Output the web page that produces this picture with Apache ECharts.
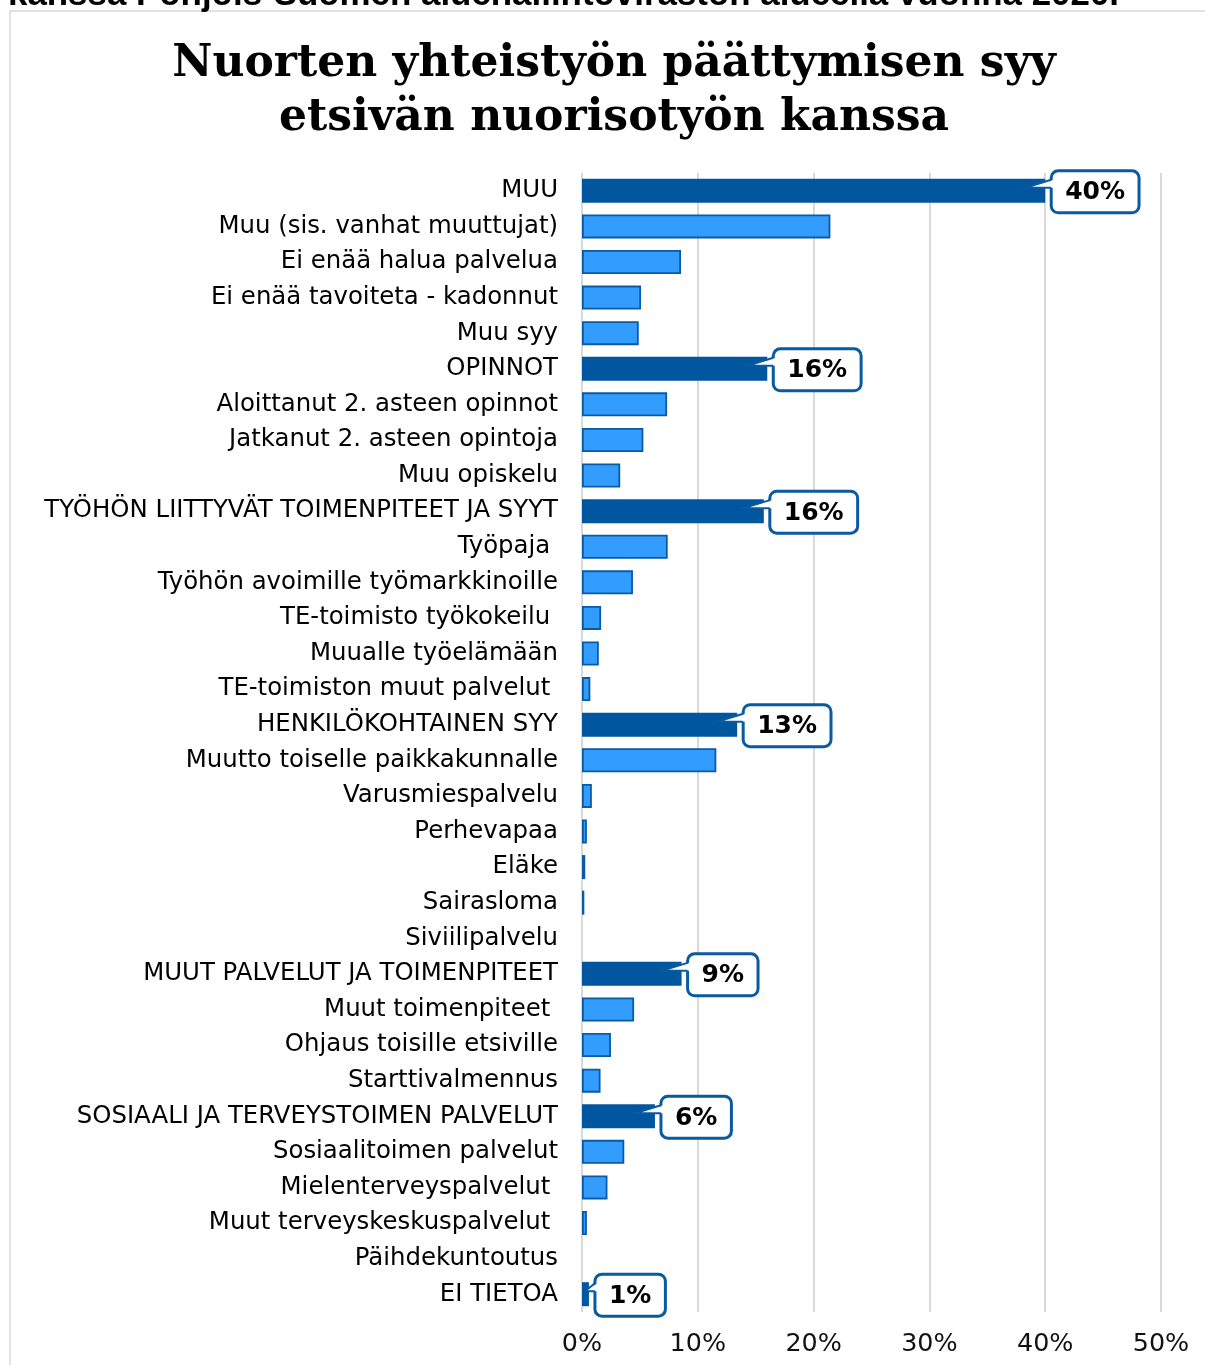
<!DOCTYPE html>
<html><head><meta charset="utf-8">
<script src="https://cdn.jsdelivr.net/npm/echarts@6.0.0/dist/echarts.min.js"></script>
<style>html,body{margin:0;padding:0;background:#fff}#c{width:1205px;height:1365px}</style>
</head><body><div id="c"></div>
<script>
// ---- data ----
const categories = [
  'MUU', 'Muu (sis. vanhat muuttujat)', 'Ei enää halua palvelua', 'Ei enää tavoiteta - kadonnut', 'Muu syy',
  'OPINNOT', 'Aloittanut 2. asteen opinnot', 'Jatkanut 2. asteen opintoja', 'Muu opiskelu',
  'TYÖHÖN LIITTYVÄT TOIMENPITEET JA SYYT', 'Työpaja ', 'Työhön avoimille työmarkkinoille', 'TE-toimisto työkokeilu ', 'Muualle työelämään', 'TE-toimiston muut palvelut ',
  'HENKILÖKOHTAINEN SYY', 'Muutto toiselle paikkakunnalle', 'Varusmiespalvelu', 'Perhevapaa', 'Eläke', 'Sairasloma', 'Siviilipalvelu',
  'MUUT PALVELUT JA TOIMENPITEET', 'Muut toimenpiteet ', 'Ohjaus toisille etsiville', 'Starttivalmennus',
  'SOSIAALI JA TERVEYSTOIMEN PALVELUT', 'Sosiaalitoimen palvelut', 'Mielenterveyspalvelut ', 'Muut terveyskeskuspalvelut ', 'Päihdekuntoutus',
  'EI TIETOA'
];
const values = [
  40.0, 21.45, 8.55, 5.1, 4.9,
  16.0, 7.35, 5.3, 3.3,
  15.7, 7.4, 4.4, 1.65, 1.45, 0.72,
  13.4, 11.6, 0.85, 0.42, 0.28, 0.2, 0,
  8.6, 4.5, 2.5, 1.6,
  6.3, 3.65, 2.2, 0.42, 0,
  0.6
];
const groupHeaders = ['MUU', 'OPINNOT', 'TYÖHÖN LIITTYVÄT TOIMENPITEET JA SYYT', 'HENKILÖKOHTAINEN SYY',
  'MUUT PALVELUT JA TOIMENPITEET', 'SOSIAALI JA TERVEYSTOIMEN PALVELUT', 'EI TIETOA'];
const xTicks = [0, 10, 20, 30, 40, 50];
const titleLines = ['Nuorten yhteistyön päättymisen syy', 'etsivän nuorisotyön kanssa'];
const topCutText = 'kanssa Pohjois-Suomen aluehallintoviraston alueella vuonna 2020.';

// ---- styles ----
const DARK = '#00569f';
const LIGHT = '#339dff';
const LIGHT_BORDER = '#0a5aa4';
const CALLOUT = '#0a5aa0';

const ctx = document.createElement('canvas').getContext('2d');
function tw(text, font) { ctx.font = font; return ctx.measureText(text).width; }

const labelSize = Math.round(339 / tw('Muu (sis. vanhat muuttujat)', '100px "DejaVu Sans"') * 100 * 10) / 10;
const titleSize = Math.round(884 / tw(titleLines[0], 'bold 100px "DejaVu Serif"') * 100 * 10) / 10;
const topSize = Math.round(1110 / tw(topCutText, 'bold 100px "Liberation Sans"') * 100 * 10) / 10;
const calloutSize = 25;
const calloutFont = 'bold ' + calloutSize + 'px "DejaVu Sans"';

const barData = values.map((v, i) => {
  const isHead = groupHeaders.indexOf(categories[i]) >= 0;
  return {
    value: v,
    itemStyle: isHead
      ? { color: DARK, borderWidth: 0 }
      : { color: LIGHT, borderColor: LIGHT_BORDER, borderWidth: v > 0 ? 1.8 : 0 }
  };
});
const calloutData = [];
categories.forEach((c, i) => {
  if (groupHeaders.indexOf(c) >= 0) calloutData.push([values[i], i]);
});

const chart = echarts.init(document.getElementById('c'), null, { renderer: 'canvas' });
chart.setOption({
  animation: false,
  backgroundColor: '#fff',
  grid: { left: 582, right: 44, top: 173, bottom: 53, containLabel: false },
  xAxis: {
    type: 'value', min: xTicks[0], max: xTicks[xTicks.length - 1], interval: xTicks[1] - xTicks[0],
    axisLine: { show: false }, axisTick: { show: false },
    splitLine: { show: true, lineStyle: { color: '#d9d9d9', width: 2 } },
    axisLabel: { formatter: '{value}%', fontFamily: 'DejaVu Sans', fontSize: labelSize + 1, color: '#111', margin: 20 }
  },
  yAxis: {
    type: 'category', inverse: true, data: categories,
    axisLine: { show: false }, axisTick: { show: false },
    axisLabel: { fontFamily: 'DejaVu Sans', fontSize: labelSize, color: '#000', margin: 24, interval: 0,
      padding: [3, 0, 0, 0] }
  },
  series: [
    { type: 'bar', data: barData, barWidth: 24, z: 2 },
    {
      type: 'custom', z: 5, data: calloutData, encode: { x: 0, y: 1 },
      renderItem: function (params, api) {
        const v = api.value(0), ci = api.value(1);
        const p = api.coord([v, ci]);
        const p0 = api.coord([0, ci]);
        const text = Math.round(v) + '%';
        const bw = tw(text, calloutFont) + 28;
        const bh = 42;
        const bl = p[0] + 6;
        const cy = p[1] + 1;
        const top = cy - bh / 2;
        const tipX = Math.max(bl - 26, p0[0] + 3), tipY = cy - 4;
        return {
          type: 'group',
          children: [
            { type: 'rect', shape: { x: bl, y: top, width: bw, height: bh, r: 7 },
              style: { fill: '#fff', stroke: CALLOUT, lineWidth: 3 } },
            { type: 'polygon', shape: { points: [[bl + 2.5, top + 9], [tipX, tipY], [bl + 2.5, tipY]] },
              style: { fill: '#fff', stroke: null } },
            { type: 'polyline', shape: { points: [[bl, top + 9], [tipX, tipY], [bl, tipY]] },
              style: { fill: null, stroke: CALLOUT, lineWidth: 2 } },
            { type: 'text', x: bl + bw / 2, y: cy + 1,
              style: { text: text, font: calloutFont, fill: '#000', align: 'center', verticalAlign: 'middle' } }
          ]
        };
      }
    }
  ],
  graphic: [
    { type: 'rect', shape: { x: 10, y: 11, width: 1300, height: 1400 }, silent: true, z: -10,
      style: { fill: null, stroke: '#d9d9d9', lineWidth: 1.5 } },
    { type: 'text', x: 8, y: 13, z: 10,
      style: { text: topCutText, font: 'bold ' + topSize + 'px "Liberation Sans"', fill: '#000', align: 'left', verticalAlign: 'bottom' } },
    { type: 'text', x: 614, y: 87, z: 10,
      style: { text: titleLines[0], font: 'bold ' + titleSize + 'px "DejaVu Serif"', fill: '#000', align: 'center', verticalAlign: 'bottom' } },
    { type: 'text', x: 614, y: 141, z: 10,
      style: { text: titleLines[1], font: 'bold ' + titleSize + 'px "DejaVu Serif"', fill: '#000', align: 'center', verticalAlign: 'bottom' } }
  ]
});
</script></body></html>
